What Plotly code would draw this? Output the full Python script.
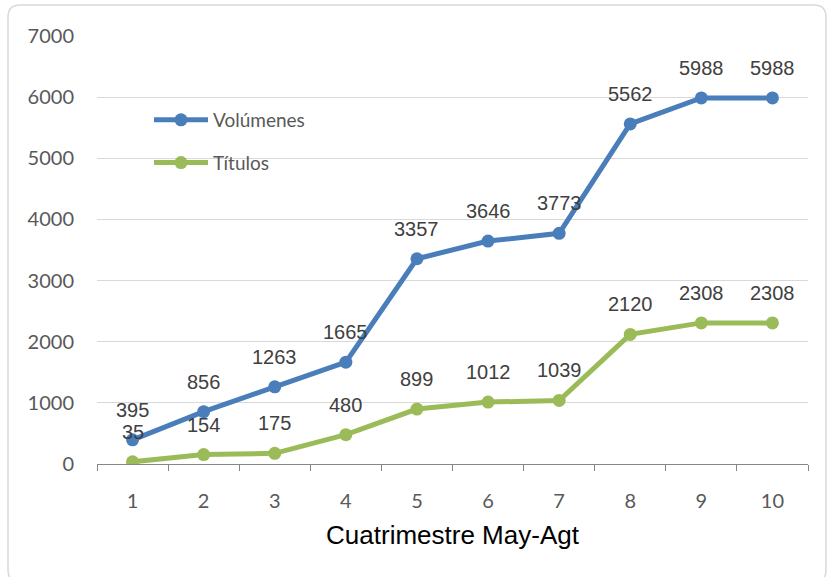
import plotly.graph_objects as go

# data
cuatrimestres = ['1', '2', '3', '4', '5', '6', '7', '8', '9', '10']
volumenes = [395, 856, 1263, 1665, 3357, 3646, 3773, 5562, 5988, 5988]
titulos = [35, 154, 175, 480, 899, 1012, 1039, 2120, 2308, 2308]

azul = '#4A7EBB'
verde = '#9BBB59'

W, H = 827, 577
L, R, T, B = 97, 19, 36, 113


def px(x):
    return (x - L) / (W - L - R)


def py(y):
    return (H - B - y) / (H - T - B)


fig = go.Figure()

fig.add_trace(go.Scatter(x=cuatrimestres, y=volumenes, name='Volúmenes', mode='lines+markers',
                         line=dict(color=azul, width=5), marker=dict(color=azul, size=13),
                         legendgroup='a'))
fig.add_trace(go.Scatter(x=cuatrimestres, y=titulos, name='Títulos', mode='lines+markers',
                         line=dict(color=verde, width=5), marker=dict(color=verde, size=13),
                         legendgroup='b'))

# data labels above points (x given as category index)
for serie in (volumenes, titulos):
    for i, v in enumerate(serie):
        fig.add_annotation(x=i, y=v, text=str(v), showarrow=False, yshift=30,
                           font=dict(family='Liberation Sans, Arial', size=20, color='#404040'))

# rounded chart frame
x0, x1, y0, y1 = px(8), px(826), py(582), py(5)
rx, ry = 12 / (W - L - R), 12 / (H - T - B)
path = (f'M {x0+rx},{y1} L {x1-rx},{y1} Q {x1},{y1} {x1},{y1-ry} '
        f'L {x1},{y0+ry} Q {x1},{y0} {x1-rx},{y0} L {x0+rx},{y0} Q {x0},{y0} {x0},{y0+ry} '
        f'L {x0},{y1-ry} Q {x0},{y1} {x0+rx},{y1} Z')
fig.add_shape(type='path', path=path, xref='paper', yref='paper',
              line=dict(color='#D9D9D9', width=1.5), layer='below')

fig.update_layout(
    width=W, height=H,
    margin=dict(l=L, r=R, t=T, b=B),
    paper_bgcolor='white', plot_bgcolor='white',
    showlegend=True,
    legend=dict(x=px(149), y=py(101), xanchor='left', yanchor='top',
                bgcolor='rgba(0,0,0,0)', tracegroupgap=15, itemwidth=54,
                font=dict(family='Lato, Calibri, sans-serif', size=19, color='#595959')),
    xaxis=dict(type='category', tickson='boundaries', ticks='outside', ticklen=6,
               tickcolor='#868686', showline=True, linecolor='#868686', linewidth=1.2,
               showgrid=False, ticklabelstandoff=19, range=[-0.5, 9.5],
               tickfont=dict(family='Lato, Calibri, sans-serif', size=20, color='#595959'),
               title=dict(text='Cuatrimestre May-Agt', standoff=14,
                          font=dict(family='Liberation Sans, Arial', size=26, color='#000000'))),
    yaxis=dict(range=[0, 7000], dtick=1000, showgrid=True, gridcolor='#D9D9D9', gridwidth=1.2,
               zeroline=False, showline=False, ticks='', ticklabelstandoff=22,
               tickfont=dict(family='Lato, Calibri, sans-serif', size=20, color='#595959')),
)

fig.write_html('out.html', config={'displayModeBar': False},
               post_script="document.body.style.margin='0';")
